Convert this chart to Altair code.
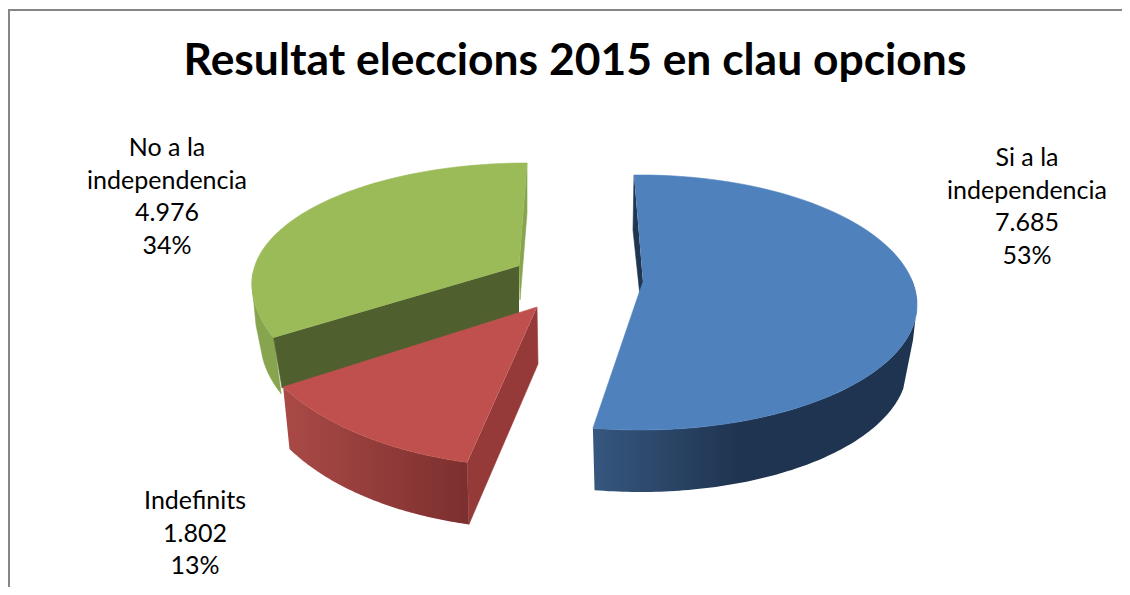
import numpy as np
import pandas as pd
import altair as alt

TITLE = "Resultat eleccions 2015 en clau opcions"
CATEGORIES = [["Si a la", "independencia"], ["Indefinits"], ["No a la", "independencia"]]
VALUES = [7685, 1802, 4976]
VALUE_LABELS = ["7.685", "1.802", "4.976"]
PERCENT_LABELS = ["53%", "13%", "34%"]

total = sum(VALUES)
edges = np.cumsum([0] + VALUES) / total * 360.0

X = alt.X("x:Q", scale=alt.Scale(domain=[8, 1122], range=[0, 1114], nice=False, zero=False), axis=None)
Y = alt.Y("y:Q", scale=alt.Scale(domain=[587, 8], range=[579, 0], nice=False, zero=False), axis=None)


def rim(c, t0, t1, depth=0.0, shrink=1.0):
    ts = np.radians(np.linspace(t0, t1, 90))
    xs = c["cx"] + c["a"] * shrink * np.sin(ts)
    b = np.where(np.cos(ts) > 0, c["b_top"], c["b_bot"])
    ys = c["cy"] + depth - b * np.cos(ts)
    return list(zip(xs.tolist(), ys.tolist()))


def shape(points, fill, stroke=True):
    df = pd.DataFrame(points, columns=["x", "y"]).assign(i=range(len(points)))
    kw = {"stroke": fill, "strokeWidth": 0.6} if stroke else {"strokeWidth": 0}
    return alt.Chart(df).mark_line(fill=fill, **kw).encode(x=X, y=Y, order="i:Q")


def ramp(left, right, mid=1.0):
    stops = [alt.GradientStop(offset=0, color=left), alt.GradientStop(offset=mid, color=right)]
    if mid < 1:
        stops.append(alt.GradientStop(offset=1, color=right))
    return alt.LinearGradient(gradient="linear", x1=0, x2=1, y1=0, y2=0, stops=stops)


BLUE = dict(cx=640, cy=305, a=277, b_top=130, b_bot=125)
RED = dict(cx=537, cy=307, a=293, b_top=160, b_bot=160)
GREEN = dict(cx=527, cy=283, a=275, b_top=120, b_bot=141)

b0, b1 = edges[0], edges[1] - 1.5
r0, r1 = edges[1] + 2.5, edges[2] + 3.9
g0, g1 = edges[2] + 11, edges[3]

layers = []

# frame
layers.append(alt.Chart(pd.DataFrame({"x": [9], "y": [10], "y2": [587]})).mark_rule(color="#868686", strokeWidth=2).encode(x=X, y=Y, y2="y2:Q"))
layers.append(alt.Chart(pd.DataFrame({"x": [8], "x2": [1122], "y": [10]})).mark_rule(color="#868686", strokeWidth=2).encode(x=X, x2="x2:Q", y=Y))

# green slice
green_corner = rim(GREEN, g0, g0)[0]
layers.append(shape(rim(GREEN, 275, g0) + rim(GREEN, g0, 262, depth=56, shrink=0.97) + [(256, 325), (252, 283)], "#87a44f"))
layers.append(shape([(527, 163), (527, 213), (520, 300), (519, 266)], "#87a44f"))
layers.append(shape([(519, 266), green_corner, (282, 388), (519, 313)], "#4f5f2d"))
layers.append(shape(rim(GREEN, g0, g1) + [(519, 266)], "#9bbb59"))

# red slice
red_corner = rim(RED, r0, r0)[0]
layers.append(shape(rim(RED, r0, r1) + rim(RED, r1, r0, depth=62, shrink=0.975), ramp("#aa4a47", "#7b2f2e"), stroke=False))
layers.append(shape([(537, 307), (538, 364), (rim(RED, r0, r0, depth=62, shrink=0.975)[0]), red_corner], "#953a38"))
layers.append(shape(rim(RED, r0, r1) + [(537, 307)], "#c0504d"))

# blue slice
layers.append(shape([(634, 175), (633, 230), (640, 296), (643, 282)], "#1f3550"))
layers.append(shape(rim(BLUE, 78, b1) + rim(BLUE, b1, 100, depth=62, shrink=0.965) + [(913, 340), (917, 305)], ramp("#36577f", "#1f3450", 0.45), stroke=False))
layers.append(shape([(634, 175)] + rim(BLUE, 0, b1) + [(639, 293), (643, 282)], "#4f81bd"))

# labels
label_centres = [(1027, 166), (195, 509), (167, 156)]
line_gap = 32.5
rows = []
for cat, val, pct, (lx, ly) in zip(CATEGORIES, VALUE_LABELS, PERCENT_LABELS, label_centres):
    for n, line in enumerate(cat + [val, pct]):
        rows.append({"x": lx, "y": ly + n * line_gap, "t": line})
layers.append(
    alt.Chart(pd.DataFrame(rows))
    .mark_text(font="Lato", fontSize=25, color="#000000", align="center", baseline="alphabetic")
    .encode(x=X, y=Y, text="t:N")
)

chart = alt.layer(*layers).properties(
    width=1114,
    height=579,
    padding=0,
    autosize=alt.AutoSizeParams(type="none"),
    title=alt.TitleParams(
        TITLE, font="Lato", fontSize=44.4, fontWeight="bold", color="#000000",
        anchor="middle", dx=10, offset=-111, baseline="alphabetic",
    ),
).configure_view(stroke=None)

chart.save("out.html", embed_options={"renderer": "svg", "actions": False})
